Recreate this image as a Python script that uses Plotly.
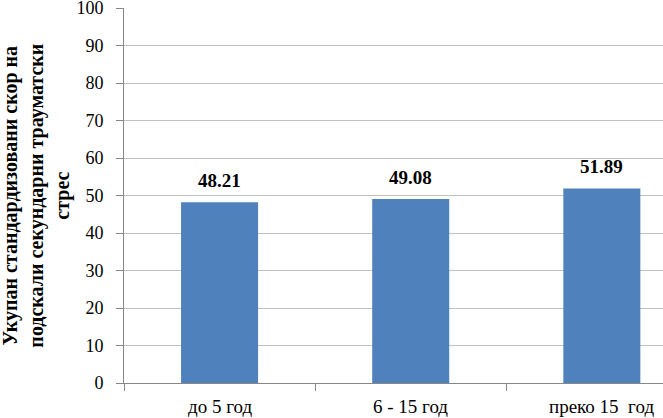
import plotly.graph_objects as go

categories = ["до 5 год", "6 - 15 год", "преко 15  год"]
values = [48.21, 49.08, 51.89]
value_labels = ["48.21", "49.08", "51.89"]
y_ticks = [0, 10, 20, 30, 40, 50, 60, 70, 80, 90, 100]
y_title = "Укупан стандардизовани скор на<br>подскали секундарни трауматски<br>стрес"

FONT = "Liberation Serif"

fig = go.Figure()
fig.add_trace(go.Bar(
    x=list(range(len(categories))),
    y=values,
    width=0.403,
    marker=dict(color="#4F81BD", line=dict(width=0)),
    hoverinfo="skip",
))

for i, (v, lab) in enumerate(zip(values, value_labels)):
    fig.add_annotation(
        x=i, y=v, text=lab, showarrow=False,
        yanchor="bottom", yshift=9,
        font=dict(family=FONT, size=19, color="black", weight="bold"),
    )

fig.add_annotation(
    xref="paper", yref="paper", x=-0.163, y=0.5,
    text=y_title, showarrow=False, textangle=-90,
    xanchor="center", yanchor="middle",
    font=dict(family=FONT, size=20, color="black", weight="bold"),
)

fig.update_layout(
    width=663, height=418,
    margin=dict(l=124, r=0, t=8, b=35, autoexpand=False),
    paper_bgcolor="white", plot_bgcolor="white",
    showlegend=False,
    font=dict(family=FONT, color="black"),
)

fig.update_xaxes(
    type="linear",
    range=[-0.5, 2.32],
    tickmode="array",
    tickvals=[-0.5, 0.5, 1.5, 2.5],
    ticktext=["", "", "", ""],
    showline=True, linecolor="#878787", linewidth=1,
    ticks="outside", ticklen=7, tickcolor="#878787",
    showgrid=False, zeroline=False,
    automargin=False,
)

for i, cat in enumerate(categories):
    fig.add_annotation(
        x=i, xref="x", y=0, yref="paper", yshift=-11,
        text=cat, showarrow=False, yanchor="top",
        font=dict(family=FONT, size=19, color="black"),
    )

fig.update_yaxes(
    range=[0, 100],
    tickmode="array", tickvals=y_ticks,
    showline=True, linecolor="#878787", linewidth=1,
    ticks="outside", ticklen=7, tickcolor="#878787",
    showgrid=True, gridcolor="#C0C0C0", gridwidth=1,
    zeroline=False,
    tickfont=dict(family=FONT, size=18, color="black"),
    ticklabelstandoff=9,
    ticklabeloverflow="allow",
    automargin=False,
)

fig.write_html("out.html", config={"displayModeBar": False})

with open("out.html", "r", encoding="utf-8") as f:
    html = f.read()
html = html.replace("<body>", "<body style=\"margin:0;padding:0;overflow:hidden\">", 1)
html = html.replace("<head>", "<head><style>html,body{margin:0;padding:0;}</style>", 1)
with open("out.html", "w", encoding="utf-8") as f:
    f.write(html)
